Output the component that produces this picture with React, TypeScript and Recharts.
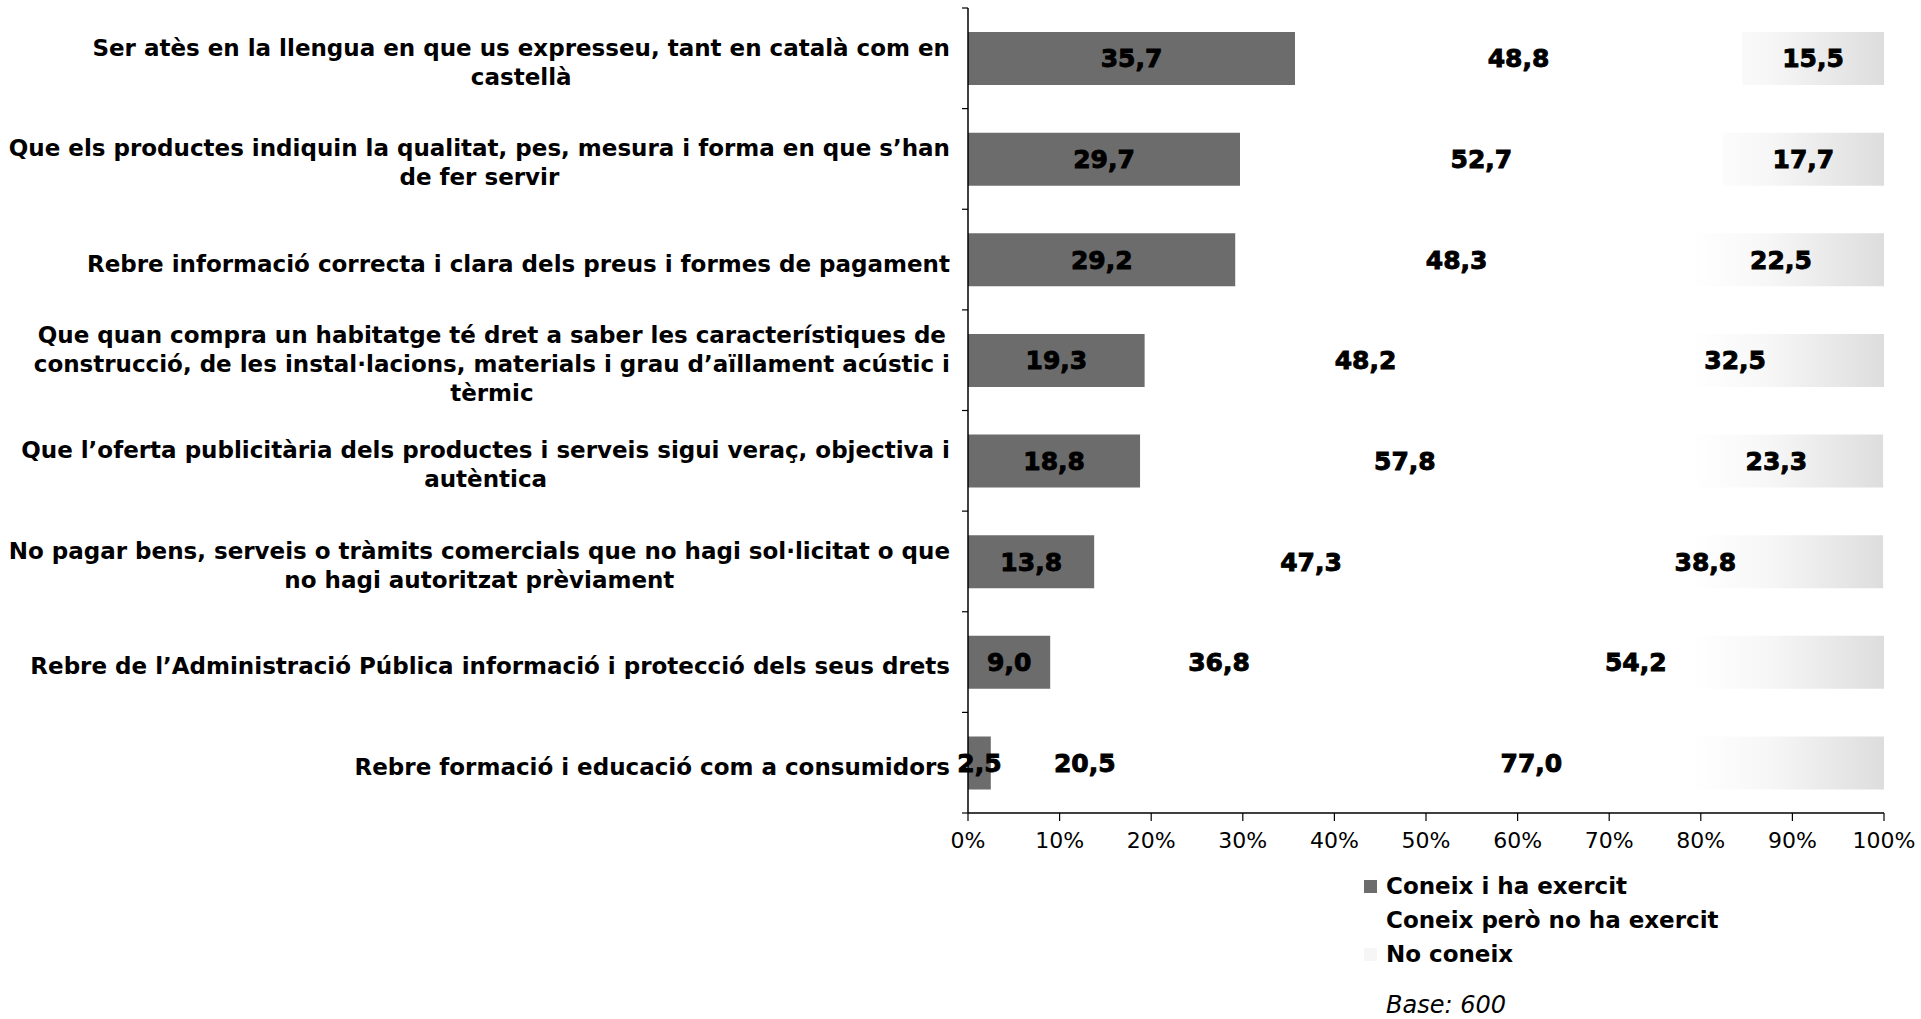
import { BarChart, Bar, XAxis, YAxis, LabelList } from "recharts";

const categories = [
  "Ser atès en la llengua en que us expresseu, tant en català com en\ncastellà",
  "Que els productes indiquin la qualitat, pes, mesura i forma en que s’han\nde fer servir",
  "Rebre informació correcta i clara dels preus i formes de pagament",
  "Que quan compra un habitatge té dret a saber les característiques de\nconstrucció, de les instal·lacions, materials i grau d’aïllament acústic i\ntèrmic",
  "Que l’oferta publicitària dels productes i serveis sigui veraç, objectiva i\nautèntica",
  "No pagar bens, serveis o tràmits comercials que no hagi sol·licitat o que\nno hagi autoritzat prèviament",
  "Rebre de l’Administració Pública informació i protecció dels seus drets",
  "Rebre formació i educació com a consumidors",
];

const coneixExercit = [35.7, 29.7, 29.2, 19.3, 18.8, 13.8, 9.0, 2.5];
const coneixNoExercit = [48.8, 52.7, 48.3, 48.2, 57.8, 47.3, 36.8, 20.5];
const noConeix = [15.5, 17.7, 22.5, 32.5, 23.3, 38.8, 54.2, 77.0];

const xTicks = [0, 10, 20, 30, 40, 50, 60, 70, 80, 90, 100];

const seriesNames = ["Coneix i ha exercit", "Coneix però no ha exercit", "No coneix"];
const baseNote = "Base: 600";

const W = 1921;
const H = 1019;
const MARGIN = { top: 8, right: 37, bottom: 166, left: 0 };
const Y_AXIS_W = 968;
const X_AXIS_H = 40;
const PLOT_H = H - MARGIN.top - MARGIN.bottom - X_AXIS_H;
const BAND = PLOT_H / categories.length;

const FONT = "'DejaVu Sans', Verdana, sans-serif";
const LABEL_FONT_SIZE = 23;
const LINE_H = 29;

const data = categories.map((c, i) => ({
  category: c,
  a: coneixExercit[i],
  b: coneixNoExercit[i],
  c: noConeix[i],
}));

let measureCtx: CanvasRenderingContext2D | null = null;
function textWidth(s: string, font: string) {
  if (!measureCtx && typeof document !== "undefined") {
    measureCtx = document.createElement("canvas").getContext("2d");
  }
  if (!measureCtx) return s.length * 13;
  measureCtx.font = font;
  return measureCtx.measureText(s).width;
}

function CategoryTick(props: any) {
  const { x, y, payload, index } = props;
  const lines = String(payload.value).split("\n");
  const font = `bold ${LABEL_FONT_SIZE}px ${FONT}`;
  const block = Math.max(...lines.map((l) => textWidth(l, font)));
  const cx = x - 18 - block / 2;
  const y0 = y + 4 - ((lines.length - 1) * LINE_H) / 2;
  const half = BAND / 2;
  return (
    <g>
      <line x1={x - 6} x2={x} y1={y - half} y2={y - half} stroke="#000" strokeWidth={1.2} />
      {index === categories.length - 1 && (
        <line x1={x - 6} x2={x} y1={y + half} y2={y + half} stroke="#000" strokeWidth={1.2} />
      )}
      <text
        textAnchor="middle"
        fontFamily={FONT}
        fontWeight="bold"
        fontSize={LABEL_FONT_SIZE}
        fill="#000"
      >
        {lines.map((l, i) => (
          <tspan key={i} x={cx} y={y0 + i * LINE_H} dy="0.35em">
            {l}
          </tspan>
        ))}
      </text>
    </g>
  );
}

const fmt = (v: any) => Number(v).toFixed(1).replace(".", ",");

const valueLabelStyle = {
  fill: "#000",
  fontSize: 25,
  fontWeight: "bold" as const,
  fontFamily: FONT,
  stroke: "#000",
  strokeWidth: 0.9,
};

const legendColors = ["#6c6c6c", "#ffffff", "#f6f6f6"];

export default function App() {
  return (
    <div style={{ position: "absolute", left: 0, top: 0, width: W, height: H, background: "#fff" }}>
      <BarChart
        width={W}
        height={H}
        data={data}
        layout="vertical"
        margin={MARGIN}
        barSize={53}
      >
        <defs>
          <linearGradient
            id="noConeixFill"
            gradientUnits="userSpaceOnUse"
            x1={1690}
            y1={0}
            x2={1884}
            y2={0}
          >
            <stop offset="0%" stopColor="#ffffff" />
            <stop offset="40%" stopColor="#f7f7f7" />
            <stop offset="100%" stopColor="#dddddd" />
          </linearGradient>
        </defs>
        <XAxis
          type="number"
          domain={[0, 100]}
          ticks={xTicks}
          allowDataOverflow
          height={X_AXIS_H}
          tickFormatter={(v: number) => `${v}%`}
          tick={{ fill: "#000", fontSize: 22, fontFamily: FONT }}
          axisLine={{ stroke: "#000", strokeWidth: 1.5 }}
          tickLine={{ stroke: "#000", strokeWidth: 1.2 }}
          tickSize={8}
          tickMargin={11}
          interval={0}
        />
        <YAxis
          type="category"
          dataKey="category"
          width={Y_AXIS_W}
          tick={<CategoryTick />}
          tickLine={false}
          tickSize={0}
          tickMargin={0}
          axisLine={{ stroke: "#000", strokeWidth: 1.5 }}
          interval={0}
        />
        <Bar dataKey="a" stackId="s" fill="#6c6c6c" isAnimationActive={false}>
          <LabelList dataKey="a" position="center" formatter={fmt} style={valueLabelStyle} />
        </Bar>
        <Bar dataKey="b" stackId="s" fill="#ffffff" isAnimationActive={false}>
          <LabelList dataKey="b" position="center" formatter={fmt} style={valueLabelStyle} />
        </Bar>
        <Bar dataKey="c" stackId="s" fill="url(#noConeixFill)" isAnimationActive={false}>
          <LabelList dataKey="c" position="center" formatter={fmt} style={valueLabelStyle} />
        </Bar>
      </BarChart>

      <div
        style={{
          position: "absolute",
          left: 1364,
          top: 869,
          fontFamily: FONT,
          fontWeight: "bold",
          fontSize: 23,
          color: "#000",
          lineHeight: "34px",
        }}
      >
        {seriesNames.map((name, i) => (
          <div key={name} style={{ display: "flex", alignItems: "center" }}>
            <span
              style={{
                display: "inline-block",
                width: 13,
                height: 13,
                background: legendColors[i],
                marginRight: 9,
              }}
            />
            {name}
          </div>
        ))}
        <div
          style={{
            fontWeight: "normal",
            fontStyle: "italic",
            fontSize: 24,
            marginTop: 17,
            marginLeft: 22,
          }}
        >
          {baseNote}
        </div>
      </div>
    </div>
  );
}
